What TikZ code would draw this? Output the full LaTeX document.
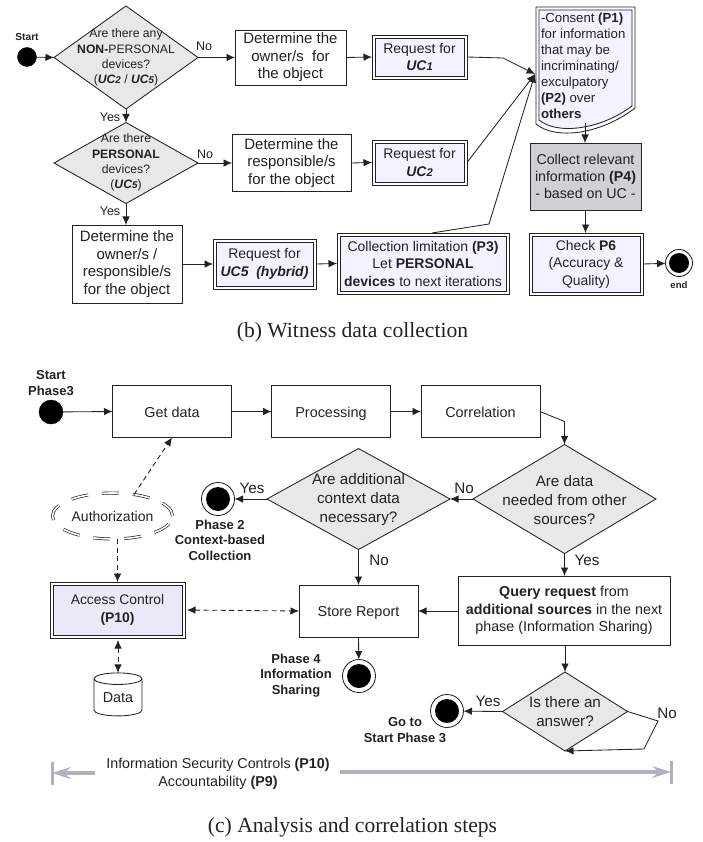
\documentclass[tikz,border=0pt]{standalone}
\usepackage{fontspec}
\setmainfont{Liberation Sans}
\newfontfamily\capfont{Liberation Serif}
\usetikzlibrary{arrows.meta,shapes.geometric,shapes.symbols}
\definecolor{ink}{HTML}{222222}
\definecolor{lav}{HTML}{F3F3FF}
\definecolor{lavb}{HTML}{E9E9FA}
\definecolor{dgray}{HTML}{E8E8E8}
\definecolor{cgray}{HTML}{D0D0D6}
\definecolor{barc}{HTML}{B0B0C2}
\newcommand{\fs}[2]{\fontsize{#1}{#2}\selectfont}
\newcommand{\UCn}[1]{{\bfseries\itshape UC{\fontsize{0.8em}{1em}\selectfont #1}}}
\tikzset{
  x=1pt,y=-1pt,
  every node/.style={inner sep=0pt,outer sep=0pt,text=ink},
  ln/.style={draw=ink,line width=0.85pt},
  tipa/.tip={Latex[length=8.5pt,width=7.5pt]},
  arr/.style={ln,-tipa},
  darr/.style={arr,dash pattern=on 5pt off 3.5pt},
  ddarr/.style={ln,dash pattern=on 5pt off 3.5pt,tipa-tipa},
  plain/.style={ln,fill=white,align=center},
  big/.style={font=\fs{15}{17.6}},
  mid/.style={font=\fs{14.4}{17.8},text height=13.6pt,text depth=2pt},
  dbl/.style={ln,fill=white,align=center,path picture={
    \draw[ln,fill=#1] ([xshift=3pt,yshift=3pt]path picture bounding box.south west)
       rectangle ([xshift=-3pt,yshift=-3pt]path picture bounding box.north east);}},
  decision/.style={diamond,ln,fill=dgray,inner sep=0pt,aspect=1},
  dtext/.style={align=center,font=\fs{12.2}{15.3}},
  dtxb/.style={align=center,font=\fs{15.2}{19}},
  lbl/.style={font=\fs{12.5}{15}},
  lblb/.style={font=\fs{15.2}{17}},
  blbl/.style={align=center,font=\bfseries\fs{13}{15.6}},
  dot/.style={circle,fill=black,draw=black},
  termo/.style={circle,ln,fill=white,minimum size=33pt},
  termi/.style={circle,fill=black,minimum size=24pt},
  capt/.style={font=\capfont\fs{21.6}{24}},
}
\begin{document}
\begin{tikzpicture}
\useasboundingbox (0,0) rectangle (702,842);

% ---------- upper diagram ----------
\node[dot,minimum size=19pt] (start) at (27,57) {};
\node[font=\bfseries\fs{10.2}{12}] (startl) at (27,37) {Start};
\node[decision,minimum width=144pt,minimum height=103pt] (d1) at (126,57.5) {};
\node[dtext] (d1t) at (126,57.5) {Are there any\\{\bfseries NON-}PERSONAL\\devices?\\(\UCn{2} / \UCn{5})};
\node[plain,big,minimum width=111pt,minimum height=55pt] (own) at (290.5,57.5) {Determine the\\owner/s\ \ for\\the object};
\node[dbl=lav,font=\fs{14}{17.6},minimum width=95pt,minimum height=44pt] (uc1) at (419.5,57) {Request for\\\UCn{1}};

\node[decision,minimum width=144pt,minimum height=81pt] (d2) at (126,163) {};
\node[dtext] (d2t) at (126,162.5) {Are there\\{\bfseries PERSONAL}\\devices?\\(\UCn{5})};
\node[plain,big,minimum width=119pt,minimum height=57pt] (res) at (291.5,163) {Determine the\\responsible/s\\for the object};
\node[dbl=lav,font=\fs{14}{17.6},minimum width=95pt,minimum height=45pt] (uc2) at (419.5,162.5) {Request for\\\UCn{2}};

\node[plain,big,minimum width=110pt,minimum height=78pt] (own2) at (127,264) {Determine the\\owner/s /\\responsible/s\\for the object};
\node[dbl=lav,font=\fs{14}{17.6},minimum width=103pt,minimum height=50pt] (uc5) at (264.5,264) {Request for\\{\bfseries\itshape UC5\ \ (hybrid)}};
\node[dbl=lav,font=\fs{14}{17.5},minimum width=172pt,minimum height=61pt] (coll) at (423,263.5) {Collection limitation {\bfseries (P3)}\\Let {\bfseries PERSONAL}\\{\bfseries devices} to next iterations};

\draw[ln,fill=white]
  (536,7) -- (635,7) -- (635,108) .. controls (600,135) and (555,140) .. (536,124) -- cycle;
\draw[ln,fill=lav]
  (539,10) -- (632,10) -- (632,106) .. controls (600,130) and (557,135) .. (539,120) -- cycle;
\node[align=left,anchor=north west,font=\fs{13.2}{16}] (doc) at (541,13) {-Consent {\bfseries (P1)}\\for information\\that may be\\incriminating/\\exculpatory\\{\bfseries (P2)} over\\{\bfseries others}};
\coordinate (docin) at (535,74);
\coordinate (docout) at (585,123);

\node[ln,fill=cgray,align=center,font=\fs{14.2}{17},minimum width=111pt,minimum height=67pt] (col) at (585.5,176.5) {Collect relevant\\information {\bfseries (P4)}\\- based on UC -};
\node[dbl=lav,font=\fs{13.9}{17.5},minimum width=114pt,minimum height=62pt] (chk) at (586,264) {Check {\bfseries P6}\\(Accuracy \&\\Quality)};
\node[circle,ln,fill=white,minimum size=27pt] (end) at (679,263) {};
\node[termi,minimum size=20pt] (endi) at (679,263) {};
\node[font=\bfseries\fs{9.6}{11}] (endl) at (679,285) {end};

\coordinate (c1) at (503,58);
\coordinate (c2a) at (432,233);
\coordinate (c2b) at (489,224);
\draw[arr] (start) -- (d1.west);
\draw[arr] (d1.east) -- (own.west);
\draw[arr] (d1.south) -- (d2.north);
\draw[arr] (d2.east) -- (res.west);
\draw[arr] (d2.south) -- (own2.north -| d2.south);
\draw[arr] (own2.east |- uc5.west) -- (uc5.west);
\draw[arr] (uc5.east) -- (coll.west);
\draw[arr] (own.east) -- (uc1.west);
\draw[arr] (res.east) -- (uc2.west);
\draw[arr] (uc1.east) -- (c1) -- (docin);
\draw[arr] (uc2.east) -- (docin);
\draw[arr] (c2a) -- (c2b) -- (docin);
\draw[arr] (docout) -- (col.north -| docout);
\draw[arr] (col.south) -- (chk.north -| col.south);
\draw[arr] (chk.east) -- (end);

\node[lbl] (no1) at (204,46) {No};
\node[lbl] (yes1) at (110,117) {Yes};
\node[lbl] (no2) at (205,154) {No};
\node[lbl] (yes2) at (110,211) {Yes};

\node[capt] (capb) at (352.5,332) {(b) Witness data collection};

% ---------- lower diagram ----------
\node[dot,minimum size=24pt] (st3) at (51,412) {};
\node[blbl] (st3l) at (51,383) {Start\\Phase3};
\node[plain,mid,minimum width=119pt,minimum height=52pt] (get) at (172,411.5) {Get data};
\node[plain,mid,minimum width=119pt,minimum height=52pt] (pro) at (331,411.5) {Processing};
\node[plain,mid,minimum width=119pt,minimum height=52pt] (cor) at (480.5,411.5) {Correlation};

\node[decision,minimum width=183pt,minimum height=109pt] (d3) at (564.5,499) {};
\node[dtxb] (d3t) at (564.5,500) {Are data\\needed from other\\sources?};
\node[decision,minimum width=183pt,minimum height=101pt] (d4) at (358.5,499) {};
\node[dtxb] (d4t) at (358.5,500) {Are additional\\context data\\necessary?};

\node[termo] (ph2) at (218,499) {};
\node[termi] (ph2i) at (218,499) {};
\node[blbl] (ph2l) at (220,540) {Phase 2\\Context-based\\Collection};

\node[ellipse,draw=ink,line width=0.7pt,double=white,double distance=1.6pt,dash pattern=on 17pt off 14pt,minimum width=120pt,minimum height=46pt,font=\fs{14}{16}] (auth) at (112.5,516) {Authorization};

\node[dbl=lavb,font=\fs{13.9}{18},minimum width=135pt,minimum height=56pt] (acc) at (117.5,610) {Access Control\\{\bfseries (P10)}};
\node[plain,mid,minimum width=119pt,minimum height=52pt] (sto) at (358.5,611) {Store Report};
\node[plain,font=\fs{14.3}{17.8},minimum width=212pt,minimum height=69pt] (qry) at (564,610.5) {{\bfseries Query request} from\\{\bfseries additional sources} in the next\\phase (Information Sharing)};

\node[cylinder,shape border rotate=90,aspect=0.38,ln,fill=white,minimum width=48pt,minimum height=43pt,font=\fs{14.4}{15}] (dat) at (118,697.5) {\raisebox{-3pt}{Data}};

\node[termo] (ph4) at (359,676) {};
\node[termi] (ph4i) at (359,676) {};
\node[blbl] (ph4l) at (296,675.5) {Phase 4\\Information\\Sharing};

\node[decision,minimum width=125pt,minimum height=79pt] (d5) at (565,711.5) {};
\node[dtxb] (d5t) at (565,711.5) {Is there an\\answer?};
\node[termo] (ph3) at (447,711) {};
\node[termi] (ph3i) at (447,711) {};
\node[blbl] (ph3l) at (405,730) {Go to\\Start Phase 3};

\draw[arr] (st3) -- (get.west);
\draw[arr] (get.east) -- (pro.west);
\draw[arr] (pro.east) -- (cor.west);
\coordinate (corb) at (564.5,421.5);
\draw[arr] (cor.east) -- (corb) -- (d3.north);
\draw[arr] (d3.west) -- (d4.east);
\draw[arr] (d4.west) -- (ph2);
\draw[arr] (d4.south) -- (sto.north);
\draw[arr] (d3.south) -- (qry.north -| d3.south);
\draw[arr] (qry.west |- sto.east) -- (sto.east);
\draw[arr] (sto.south) -- (ph4);
\draw[arr] (qry.south -| d5.north) -- (d5.north);
\draw[arr] (d5.west) -- (ph3);
\coordinate (lp1) at (658,721);
\coordinate (lp2) at (644,749);
\draw[arr] (d5.east) -- (lp1) -- (lp2) -- (d5.south);
\draw[darr] (auth.45) -- (get.south);
\draw[darr] (acc.north |- auth.south) -- (acc.north);
\draw[ddarr] ([xshift=2pt]acc.east) -- (sto.west);
\draw[ddarr] ([yshift=-2pt]acc.south -| dat.north) -- (dat.north);

\node[lblb] (ly) at (252,488) {Yes};
\node[lblb] (ln3) at (464,488) {No};
\node[lblb] (ln4) at (379,560) {No};
\node[lblb] (ly3) at (587,560) {Yes};
\node[lblb] (ly5) at (488,701) {Yes};
\node[lblb] (ln5) at (667,713) {No};

\node[align=center,font=\fs{14.3}{18.4}] (sec) at (218,773.5) {Information Security Controls {\bfseries (P10)}\\Accountability {\bfseries (P9)}};
\coordinate (la) at (95,773);
\coordinate (lb) at (52,773);
\coordinate (ra) at (340,772);
\coordinate (rb) at (671,772);
\draw[barc,line width=3.4pt,-{Stealth[length=19pt,width=12pt,inset=7pt]}] (la) -- (lb);
\draw[barc,line width=3.4pt,-{Stealth[length=19pt,width=12pt,inset=7pt]}] (ra) -- (rb);
\draw[barc,line width=3pt] ([yshift=-11.5pt]lb) -- ([yshift=11.5pt]lb);
\draw[barc,line width=3pt] ([yshift=-12pt]rb) -- ([yshift=11pt]rb);

\node[capt] (capc) at (352.5,827) {(c) Analysis and correlation steps};
\end{tikzpicture}
\end{document}
